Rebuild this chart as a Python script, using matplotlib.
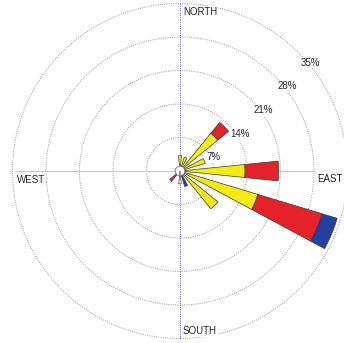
import numpy as np
import matplotlib.pyplot as plt

plt.rcParams['font.family'] = ['Liberation Sans', 'DejaVu Sans']

# wind direction sectors (compass, clockwise from north)
directions = ['N', 'NNE', 'NE', 'ENE', 'E', 'ESE', 'SE', 'SSE',
              'S', 'SSW', 'SW', 'WSW', 'W', 'WNW', 'NW', 'NNW']

# frequency (%) per speed class, stacked outwards
calm_low = [0.5, 0.5, 0.5, 0.5, 0.5, 0.5, 0.5, 1.0,
            2.7, 0.0, 0.8, 0.0, 0.0, 0.0, 0.0, 0.0]
speed_mid = [2.7, 2.5, 9.7, 5.0, 13.1, 16.5, 9.7, 0.0,
             0.0, 0.0, 0.0, 0.0, 0.0, 0.0, 0.0, 0.0]
speed_high = [0.0, 0.0, 2.9, 0.0, 7.0, 14.0, 0.0, 0.0,
              0.0, 0.0, 2.0, 0.0, 0.0, 0.0, 0.0, 0.0]
speed_max = [0.0, 0.0, 0.0, 0.0, 0.0, 3.3, 0.0, 2.4,
             0.0, 0.0, 0.0, 0.0, 0.0, 0.0, 0.0, 0.0]

classes = [calm_low, speed_mid, speed_high, speed_max]
colors = ['white', '#f2ec12', '#e5222a', '#243fa0']

rings = [7, 14, 21, 28, 35]
ring_labels = ['7%', '14%', '21%', '28%', '35%']

fig = plt.figure(figsize=(3.44, 3.43), dpi=100)
ax = fig.add_axes([12.5 / 344, 4.5 / 343, 335 / 344, 335 / 343], projection='polar')
ax.set_theta_zero_location('N')
ax.set_theta_direction(-1)
ax.set_ylim(0, rings[-1])
ax.set_axis_off()

theta = np.deg2rad(np.arange(len(directions)) * 22.5)
width = np.deg2rad(11.5)

# dotted rings
t = np.linspace(0, 2 * np.pi, 400)
for r in rings:
    ax.plot(t, np.full_like(t, r), color='#a69494', lw=0.7,
            linestyle=(0, (1, 1.3)), clip_on=False, zorder=1)

# N-S and W-E axes
ax.plot([0, 0], [0, 35.2], color='#7070b8', lw=0.8, linestyle=(0, (1, 1)), clip_on=False, zorder=1)
ax.plot([np.pi, np.pi], [0, 35.3], color='#7070b8', lw=0.8, linestyle=(0, (1, 1)), clip_on=False, zorder=1)
ax.plot([np.pi / 2, np.pi / 2], [0, 28.2], color='#c6c6c6', lw=0.7, zorder=1)
ax.plot([3 * np.pi / 2, 3 * np.pi / 2], [0, 34.5], color='#c6c6c6', lw=0.7, zorder=1)

# stacked petals
bottom = np.zeros(len(directions))
for vals, c in zip(classes, colors):
    vals = np.array(vals)
    mask = vals > 0
    ax.bar(theta[mask], vals[mask], width=width, bottom=bottom[mask],
           color=c, edgecolor='#3a3a3a', linewidth=0.5, zorder=3)
    bottom += vals

# calm circle
ax.bar(0, 1.0, width=2 * np.pi, bottom=0, color='white',
       edgecolor='#777777', linewidth=0.6, zorder=4)

box = dict(facecolor='white', edgecolor='none', pad=0.4)
for r, lab in zip(rings, ring_labels):
    ax.annotate(lab, xy=(np.deg2rad(45), r), xytext=(1.8, -3.6),
                textcoords='offset points', ha='left', va='top',
                fontsize=7, color='#262626', bbox=box, zorder=5,
                annotation_clip=False)

ax.text(0.509, 0.975, 'NORTH', transform=ax.transAxes, ha='left', va='center',
        fontsize=7, color='#262626', bbox=box, zorder=5)
ax.text(0.509, 0.0224, 'SOUTH', transform=ax.transAxes, ha='left', va='center',
        fontsize=7, color='#262626', bbox=box, zorder=5)
ax.text(0.0134, 0.473, 'WEST', transform=ax.transAxes, ha='left', va='center',
        fontsize=7, color='#262626', bbox=box, zorder=5)
ax.text(0.909, 0.476, 'EAST', transform=ax.transAxes, ha='left', va='center',
        fontsize=7, color='#262626', bbox=box, zorder=5)

fig.savefig('out.png', dpi=100)
